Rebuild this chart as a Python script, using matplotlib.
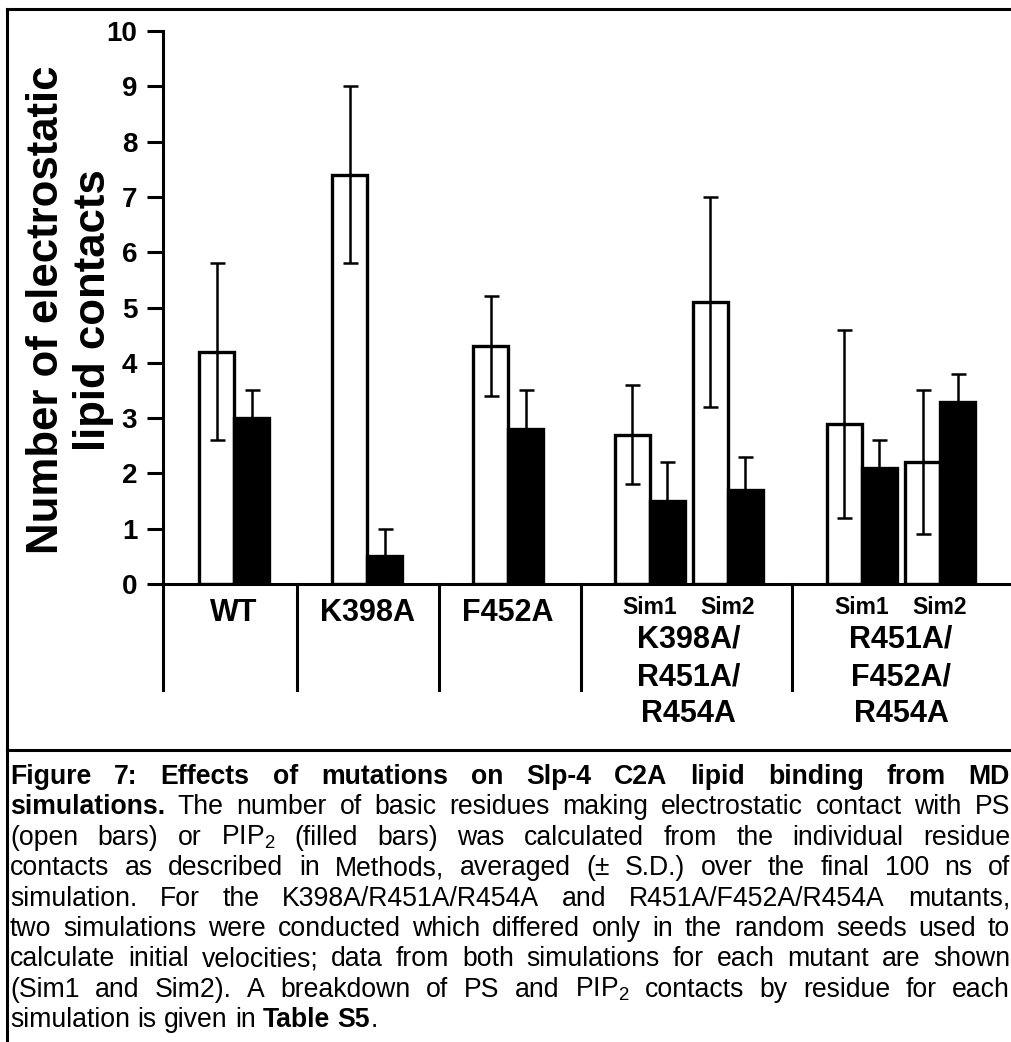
import matplotlib
matplotlib.use('Agg')
import matplotlib.pyplot as plt
from matplotlib.lines import Line2D
from matplotlib.transforms import blended_transform_factory

plt.rcParams['font.family'] = ['Liberation Sans', 'DejaVu Sans']
plt.rcParams['mathtext.fontset'] = 'custom'
plt.rcParams['mathtext.rm'] = 'Liberation Sans'
plt.rcParams['mathtext.it'] = 'Liberation Sans:italic'
plt.rcParams['mathtext.bf'] = 'Liberation Sans:bold'

# ---------------- data ----------------
conditions = ['WT', 'K398A', 'F452A',
              'K398A/R451A/R454A Sim1', 'K398A/R451A/R454A Sim2',
              'R451A/F452A/R454A Sim1', 'R451A/F452A/R454A Sim2']
ps_mean = [4.2, 7.4, 4.3, 2.7, 5.1, 2.9, 2.2]
ps_sd = [1.6, 1.6, 0.9, 0.9, 1.9, 1.7, 1.3]
pip2_mean = [3.0, 0.5, 2.8, 1.5, 1.7, 2.1, 3.3]
pip2_sd = [0.5, 0.5, 0.7, 0.7, 0.6, 0.5, 0.5]
group_labels = [['WT'], ['K398A'], ['F452A'],
                ['K398A/', 'R451A/', 'R454A'],
                ['R451A/', 'F452A/', 'R454A']]
group_members = [[0], [1], [2], [3, 4], [5, 6]]
sim_labels = ['Sim1', 'Sim2']
yticks = list(range(0, 11))
ylabel = 'Number of electrostatic\nlipid contacts'

caption_lines = [
    [[('Figure', True)], [('7:', True)], [('Effects', True)], [('of', True)], [('mutations', True)],
     [('on', True)], [('Slp-4', True)], [('C2A', True)], [('lipid', True)], [('binding', True)],
     [('from', True)], [('MD', True)]],
    'B:simulations.| The number of basic residues making electrostatic contact with PS',
    '(open bars) or PIP$_2$ (filled bars) was calculated from the individual residue',
    'contacts as described in Methods, averaged (\u00b1 S.D.) over the final 100 ns of',
    'simulation. For the K398A/R451A/R454A and R451A/F452A/R454A mutants,',
    'two simulations were conducted which differed only in the random seeds used to',
    'calculate initial velocities; data from both simulations for each mutant are shown',
    '(Sim1 and Sim2). A breakdown of PS and PIP$_2$ contacts by residue for each',
    [[('simulation', False)], [('is', False)], [('given', False)], [('in', False)],
     [('Table', True)], [('S5', True), ('.', False)]],
]

# ---------------- layout ----------------
W, H = 1012, 1042
fig = plt.figure(figsize=(W / 100, H / 100), dpi=100)

def fx(p):
    return p / W

def fy(p):
    return 1 - p / H

ax_left, ax_right, ax_top, ax_bot = 163, 1012, 31, 584
ax = fig.add_axes([fx(ax_left), fy(ax_bot), fx(ax_right - ax_left), (ax_bot - ax_top) / H])

pair_centers = [2.03, 5.83, 9.86, 13.91, 16.14, 19.97, 22.2]
group_edges = [0, 3.83, 7.89, 11.94, 17.97]
xmax = (ax_right - ax_left) / 35.0
bar_w = 1.0

open_x = [c - bar_w / 2 for c in pair_centers]
fill_x = [c + bar_w / 2 for c in pair_centers]

ax.bar(open_x, ps_mean, width=bar_w, color='white', edgecolor='black', linewidth=2.4, zorder=2)
ax.bar(fill_x, pip2_mean, width=bar_w, color='black', edgecolor='black', linewidth=2.4, zorder=2)
ax.errorbar(open_x, ps_mean, yerr=ps_sd, fmt='none', ecolor='black', elinewidth=1.8,
            capsize=5.4, capthick=1.8, zorder=3)
ax.errorbar(fill_x, pip2_mean, yerr=[[0] * len(pip2_sd), pip2_sd], fmt='none', ecolor='black',
            elinewidth=1.8, capsize=5.4, capthick=1.8, zorder=3)

ax.set_xlim(0, xmax)
ax.set_ylim(0, 10)
ax.set_yticks(yticks)
ax.set_yticklabels([str(v) for v in yticks], fontsize=20, fontweight='bold')
ax.tick_params(axis='y', length=11.5, width=2.2, pad=7, direction='out')
ax.set_xticks([])
for s in ['top', 'right']:
    ax.spines[s].set_visible(False)
for s in ['left', 'bottom']:
    ax.spines[s].set_linewidth(2.2)
ax.spines['left'].set_capstyle('projecting')

# below-axis structure
bt = blended_transform_factory(ax.transData, fig.transFigure)
for e in group_edges:
    ax.add_line(Line2D([e, e], [fy(ax_bot), fy(690)], transform=bt, color='black',
                       linewidth=2.2, clip_on=False))

line_y = [640, 677, 714]
for members, labels in zip(group_members, group_labels):
    cx = sum(pair_centers[m] for m in members) / len(members)
    if len(labels) == 1:
        ax.text(cx, fy(613), labels[0], transform=bt, ha='center', va='center',
                fontsize=22, fontweight='bold', clip_on=False)
    else:
        for m, sl in zip(members, sim_labels):
            ax.text(pair_centers[m], fy(607), sl, transform=bt, ha='center', va='center',
                    fontsize=16.5, fontweight='bold', clip_on=False)
        for lbl, yy in zip(labels, line_y):
            ax.text(cx, fy(yy), lbl, transform=bt, ha='center', va='center',
                    fontsize=22, fontweight='bold', clip_on=False)

fig.text(fx(70), fy(310), ylabel, rotation=90, ha='center', va='center',
         fontsize=31.5, fontweight='bold', multialignment='center', linespacing=1.2)

# frame
lw = 2.2
fig.add_artist(Line2D([fx(7), fx(W + 5)], [fy(9), fy(9)], color='black', linewidth=lw))
fig.add_artist(Line2D([fx(7), fx(7)], [fy(9), fy(H + 5)], color='black', linewidth=lw))
fig.add_artist(Line2D([fx(7), fx(W + 5)], [fy(750), fy(750)], color='black', linewidth=lw))

# caption (justified)
cap_fs = 19.2
renderer = fig.canvas.get_renderer()

def parse(line):
    if isinstance(line, list):
        return line
    words = []
    if line.startswith('B:'):
        b, rest = line[2:].split('|')
        words.append([(b, True)])
        line = rest
    for w in line.split():
        words.append([(w, False)])
    return words

def seg_w(txt, bold):
    t = fig.text(0, 0, txt, fontsize=cap_fs, fontweight='bold' if bold else 'normal')
    w = t.get_window_extent(renderer).width
    t.remove()
    return w

x_l, x_r = 10, 1010
base0, dy = 784, 30.4
for i, line in enumerate(caption_lines):
    words = parse(line)
    widths = [[seg_w(t, b) for t, b in w] for w in words]
    totals = [sum(ws) for ws in widths]
    last = (i == len(caption_lines) - 1)
    if last:
        gap = seg_w('a b', False) - seg_w('ab', False)
    else:
        gap = (x_r - x_l - sum(totals)) / (len(words) - 1)
    x = x_l
    yb = base0 + i * dy
    for w, ws, tot in zip(words, widths, totals):
        xx = x
        for (t, b), sw in zip(w, ws):
            fig.text(fx(xx), fy(yb), t, fontsize=cap_fs, fontweight='bold' if b else 'normal',
                     ha='left', va='baseline')
            xx += sw
        x += tot + gap

fig.savefig('out.png', dpi=100)
